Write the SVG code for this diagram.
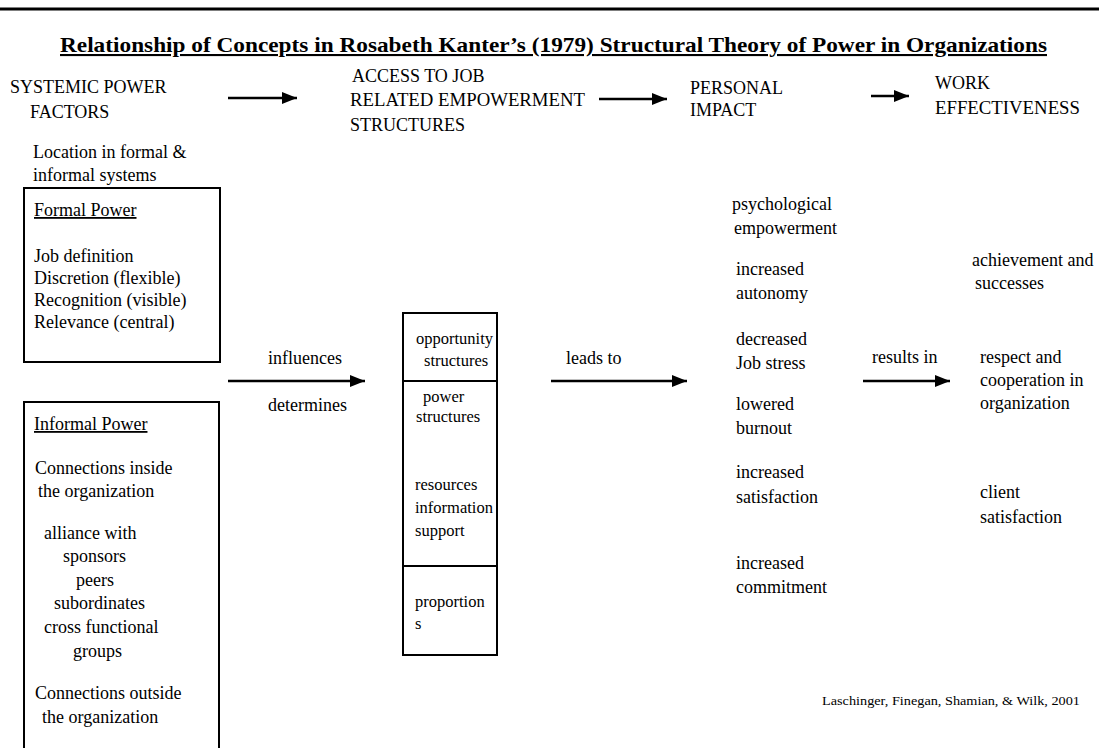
<svg xmlns="http://www.w3.org/2000/svg" width="1099" height="748" viewBox="0 0 1099 748">
<style>
text{font-family:"Liberation Serif","Times New Roman",serif;font-size:18px;fill:#000}
.title{font-weight:bold;font-size:21px;text-decoration:underline}
.u{text-decoration:underline}
.sm{font-size:16.5px}
.cite{font-size:12px}
.box{fill:none;stroke:#000;stroke-width:2}
.conn{stroke:#000;stroke-width:2.5;fill:none;marker-end:url(#ah)}
</style>
<defs>
<marker id="ah" markerUnits="userSpaceOnUse" markerWidth="16" markerHeight="14" refX="15" refY="7" orient="auto">
<path d="M0,1 L15,7 L0,13 Z" fill="#000"/>
</marker>
</defs>
<rect width="1099" height="748" fill="#fff"/>
<line x1="0" y1="9" x2="1099" y2="9" stroke="#000" stroke-width="3"/>
<text class="title" x="60" y="52" textLength="987" lengthAdjust="spacingAndGlyphs">Relationship of Concepts in Rosabeth Kanter’s (1979) Structural Theory of Power in Organizations</text>

<g id="header-systemic">
<text x="10" y="93">SYSTEMIC POWER</text>
<text x="30" y="118">FACTORS</text>
</g>
<g id="header-access">
<text x="352" y="82">ACCESS TO JOB</text>
<text x="350" y="106" textLength="235" lengthAdjust="spacingAndGlyphs">RELATED EMPOWERMENT</text>
<text x="350" y="131">STRUCTURES</text>
</g>
<g id="header-personal">
<text x="690" y="94">PERSONAL</text>
<text x="690" y="116">IMPACT</text>
</g>
<g id="header-work">
<text x="935" y="89">WORK</text>
<text x="935" y="114" textLength="145" lengthAdjust="spacingAndGlyphs">EFFECTIVENESS</text>
</g>

<g id="location">
<text x="33" y="158">Location in formal &amp;</text>
<text x="33" y="181">informal systems</text>
</g>

<g id="formal-power">
<rect class="box" x="24" y="188" width="196" height="174"/>
<text class="u" x="34" y="216">Formal Power</text>
<text x="34" y="262">Job definition</text>
<text x="34" y="284">Discretion (flexible)</text>
<text x="34" y="306">Recognition (visible)</text>
<text x="34" y="328">Relevance (central)</text>
</g>

<g id="informal-power">
<path class="box" d="M24,750 V402 H219 V750"/>
<text class="u" x="34" y="430">Informal Power</text>
<text x="35" y="474">Connections inside</text>
<text x="38" y="497">the organization</text>
<text x="44" y="539">alliance with</text>
<text x="63" y="562">sponsors</text>
<text x="76" y="586">peers</text>
<text x="54" y="609">subordinates</text>
<text x="44" y="633">cross functional</text>
<text x="73" y="657">groups</text>
<text x="35" y="699">Connections outside</text>
<text x="42" y="723">the organization</text>
</g>

<g id="structures">
<rect class="box" x="403" y="313" width="94" height="342"/>
<line x1="403" y1="381" x2="497" y2="381" stroke="#000" stroke-width="2"/>
<line x1="403" y1="566" x2="497" y2="566" stroke="#000" stroke-width="2"/>
<text class="sm" x="416" y="344">opportunity</text>
<text class="sm" x="424" y="366">structures</text>
<text class="sm" x="423" y="402">power</text>
<text class="sm" x="416" y="422">structures</text>
<text class="sm" x="415" y="490">resources</text>
<text class="sm" x="415" y="513">information</text>
<text class="sm" x="415" y="536">support</text>
<text class="sm" x="415" y="607">proportion</text>
<text class="sm" x="415" y="629">s</text>
</g>

<g id="personal-impact">
<text x="732" y="210">psychological</text>
<text x="734" y="234">empowerment</text>
<text x="736" y="275">increased</text>
<text x="736" y="299">autonomy</text>
<text x="736" y="345">decreased</text>
<text x="736" y="369">Job stress</text>
<text x="736" y="410">lowered</text>
<text x="736" y="434">burnout</text>
<text x="736" y="478">increased</text>
<text x="736" y="503">satisfaction</text>
<text x="736" y="569">increased</text>
<text x="736" y="593">commitment</text>
</g>

<g id="work-effectiveness">
<text x="972" y="266">achievement and</text>
<text x="975" y="289">successes</text>
<text x="980" y="363">respect and</text>
<text x="980" y="386">cooperation in</text>
<text x="980" y="409">organization</text>
<text x="980" y="498">client</text>
<text x="980" y="523">satisfaction</text>
</g>

<g id="connectors">
<line class="conn" x1="228" y1="98" x2="297" y2="98"/>
<line class="conn" x1="599" y1="99" x2="667" y2="99"/>
<line class="conn" x1="871" y1="96" x2="909" y2="96"/>
<line class="conn" x1="228" y1="381" x2="365" y2="381"/>
<line class="conn" x1="551" y1="381" x2="687" y2="381"/>
<line class="conn" x1="863" y1="381" x2="950" y2="381"/>
<text x="268" y="364">influences</text>
<text x="268" y="411">determines</text>
<text x="566" y="364">leads to</text>
<text x="872" y="363">results in</text>
</g>

<text class="cite" x="822" y="705" textLength="258" lengthAdjust="spacingAndGlyphs">Laschinger, Finegan, Shamian, &amp; Wilk, 2001</text>
</svg>
